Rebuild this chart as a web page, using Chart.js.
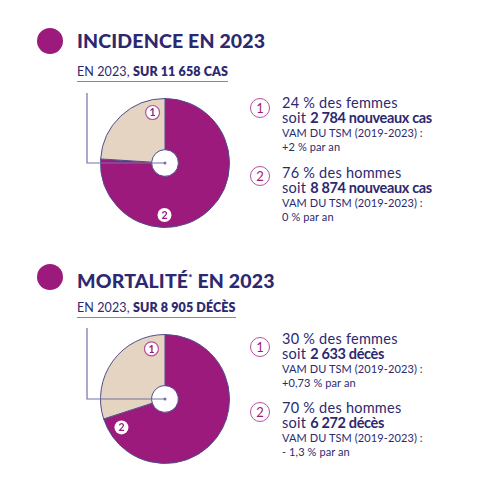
<!DOCTYPE html>
<html lang="fr">
<head>
<meta charset="UTF-8">
<title>Incidence et mortalité en 2023</title>
<script src="https://cdn.jsdelivr.net/npm/chart.js"></script>
<style>
    body {
        margin: 0;
        background: #fff;
        font-family: Lato, "Open Sans", sans-serif;
        color: #2c2970;
    }
    #page {
        position: relative;
        width: 490px;
        height: 490px;
        overflow: hidden;
    }
    .bullet {
        position: absolute;
        left: 37px;
        width: 26px;
        height: 26px;
        border-radius: 50%;
        background: #9c1a7b;
    }
    .title {
        position: absolute;
        left: 77px;
        font-size: 19.5px;
        font-weight: 900;
        letter-spacing: 0.15px;
        line-height: 22px;
        white-space: nowrap;
    }
    .title sup { font-size: 10px; vertical-align: 7px; }
    .subtitle {
        position: absolute;
        left: 77px;
        font-size: 12.5px;
        line-height: 15px;
        padding-bottom: 2px;
        border-bottom: 1.5px solid #8482b6;
        white-space: nowrap;
        letter-spacing: 0.1px;
    }
    .subtitle b { font-weight: 800; }
    .box {
        position: absolute;
        width: 170px;
        height: 170px;
        left: 80px;
    }
    .num {
        position: absolute;
        left: 250px;
        width: 18px;
        height: 18px;
        border: 1.3px solid #b5509f;
        border-radius: 50%;
        color: #9c1a7b;
        font-size: 13px;
        line-height: 18px;
        text-align: center;
    }
    .legend {
        position: absolute;
        left: 282px;
        white-space: nowrap;
    }
    .legend .big { font-size: 14.5px; line-height: 15px; letter-spacing: 0.25px; }
    .legend .big b { font-weight: 700; letter-spacing: -0.35px; }
    .legend .small { font-size: 11px; line-height: 14px; margin-top: 1.5px; letter-spacing: 0.1px; }
    .legend .small + .small { margin-top: 0; }
</style>
</head>
<body>
<div id="page">
    <div class="bullet" style="top:28px"></div>
    <div class="title" style="top:30px">INCIDENCE EN 2023</div>
    <div class="subtitle" style="top:64px">EN 2023, <b>SUR 11&#8239;658 CAS</b></div>
    <div class="box" style="top:78px"><canvas id="incidenceChart" width="170" height="170"></canvas></div>

    <div class="num" style="top:98px">1</div>
    <div class="legend" style="top:94.5px" id="leg0"></div>
    <div class="num" style="top:166px">2</div>
    <div class="legend" style="top:164.5px" id="leg1"></div>

    <div class="bullet" style="top:264px"></div>
    <div class="title" style="top:266px">MORTALITÉ<sup>*</sup> EN 2023</div>
    <div class="subtitle" style="top:300px">EN 2023, <b>SUR 8&#8239;905 DÉCÈS</b></div>
    <div class="box" style="top:314px"><canvas id="mortaliteChart" width="170" height="170"></canvas></div>

    <div class="num" style="top:337px">1</div>
    <div class="legend" style="top:330.5px" id="leg2"></div>
    <div class="num" style="top:402px">2</div>
    <div class="legend" style="top:399.5px" id="leg3"></div>
</div>
<script>
    // categories: 1 = femmes, 2 = hommes
    const sexes = ['femmes', 'hommes'];
    const badgeNumbers = ['1', '2'];

    // incidence 2023
    const incidencePct = [24, 76];
    const incidenceCount = ['2\u202F784', '8\u202F874'];
    const incidenceVam = ['+2\u00A0% par an', '0\u00A0% par an'];

    // mortalité 2023
    const mortalitePct = [30, 70];
    const mortaliteCount = ['2\u202F633', '6\u202F272'];
    const mortaliteVam = ['+0,73\u00A0% par an', '- 1,3\u00A0% par an'];

    const MAGENTA = '#9c1a7b';
    const BEIGE = '#e5d4c1';
    const EDGE = '#4f4d8e';
    const LEADER = '#7471aa';

    function fillLegend(id, pct, sex, count, unit, vam) {
        document.getElementById(id).innerHTML =
            `<div class="big">${pct}\u00A0% des ${sex}</div>` +
            `<div class="big">soit <b>${count} ${unit}</b></div>` +
            `<div class="small">VAM DU TSM (2019-2023)\u00A0:</div>` +
            `<div class="small">${vam}</div>`;
    }
    fillLegend('leg0', incidencePct[0], sexes[0], incidenceCount[0], 'nouveaux cas', incidenceVam[0]);
    fillLegend('leg1', incidencePct[1], sexes[1], incidenceCount[1], 'nouveaux cas', incidenceVam[1]);
    fillLegend('leg2', mortalitePct[0], sexes[0], mortaliteCount[0], 'décès', mortaliteVam[0]);
    fillLegend('leg3', mortalitePct[1], sexes[1], mortaliteCount[1], 'décès', mortaliteVam[1]);

    // draws the leader line and the numbered badges on the slices
    const badgePlugin = {
        id: 'badges',
        afterDraw(chart, args, opts) {
            const ctx = chart.ctx;
            const arcs = chart.getDatasetMeta(0).data;
            const cx = arcs[0].x, cy = arcs[0].y;

            ctx.save();
            ctx.strokeStyle = LEADER;
            ctx.lineWidth = 1.2;
            ctx.beginPath();
            ctx.moveTo(cx - 78, cy - opts.leaderTop);
            ctx.lineTo(cx - 78, cy);
            ctx.lineTo(cx, cy);
            ctx.stroke();
            ctx.fillStyle = LEADER;
            ctx.beginPath();
            ctx.arc(cx, cy, 1.5, 0, Math.PI * 2);
            ctx.fill();

            arcs.forEach((arc, i) => {
                const a = arc.startAngle + opts.along[i] * (arc.endAngle - arc.startAngle);
                const x = cx + 52 * Math.cos(a);
                const y = cy + 52 * Math.sin(a);
                const isFemale = chart.data.labels[i] === sexes[0];
                ctx.beginPath();
                ctx.arc(x, y, 7, 0, Math.PI * 2);
                ctx.fillStyle = '#fff';
                ctx.fill();
                if (isFemale) {
                    ctx.strokeStyle = '#b5509f';
                    ctx.lineWidth = 1.2;
                    ctx.stroke();
                }
                ctx.fillStyle = MAGENTA;
                ctx.font = 'bold 10.5px Lato, sans-serif';
                ctx.textAlign = 'center';
                ctx.textBaseline = 'middle';
                ctx.fillText(badgeNumbers[sexes.indexOf(chart.data.labels[i])], x, y + 0.5);
            });
            ctx.restore();
        }
    };

    function makeDonut(id, pct, along, leaderTop) {
        // hommes first so that femmes sits just left of 12 o'clock
        const order = [1, 0];
        return new Chart(document.getElementById(id), {
            type: 'doughnut',
            data: {
                labels: order.map(i => sexes[i]),
                datasets: [{
                    data: order.map(i => pct[i]),
                    backgroundColor: order.map(i => i === 0 ? BEIGE : MAGENTA),
                    borderColor: EDGE,
                    borderWidth: 1
                }]
            },
            options: {
                responsive: false,
                animation: false,
                radius: 64.5,
                cutout: 17.5,
                plugins: {
                    legend: { display: false },
                    tooltip: { enabled: false },
                    badges: { along: along, leaderTop: leaderTop }
                }
            },
            plugins: [badgePlugin]
        });
    }

    makeDonut('incidenceChart', incidencePct, [0.66, 0.84], 70);
    makeDonut('mortaliteChart', mortalitePct, [0.94, 0.86], 71);
</script>
</body>
</html>
